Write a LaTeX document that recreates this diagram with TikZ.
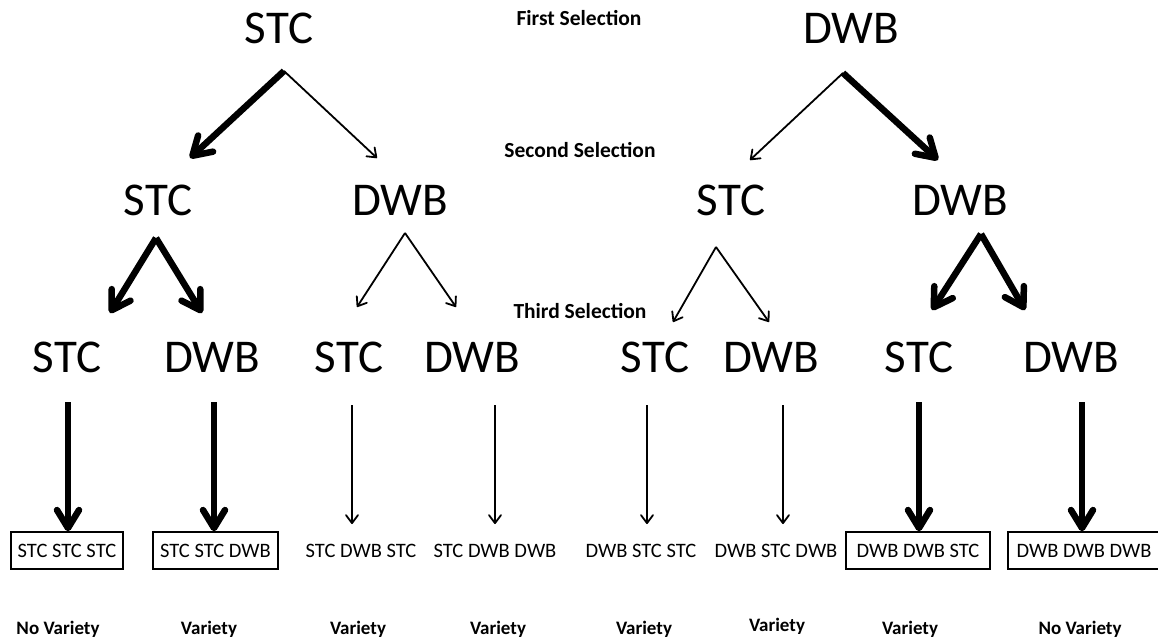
\documentclass[tikz,border=0pt]{standalone}
\usepackage{fontspec}
\setmainfont{Carlito}
\usetikzlibrary{arrows.meta}
\begin{document}
\begin{tikzpicture}[x=1pt,y=-1pt,
  big/.style={font=\fontsize{47}{50}\selectfont, anchor=base, inner sep=0pt},
  lab/.style={font=\bfseries\fontsize{19}{21}\selectfont, anchor=base, inner sep=0pt},
  sellab/.style={font=\bfseries\fontsize{21.5}{23}\selectfont, anchor=base, inner sep=0pt},
  res/.style={font=\fontsize{20.5}{22}\selectfont, inner sep=0pt, minimum height=37pt},
  resbox/.style={res, draw, line width=1.4pt},
  heavyarrow/.style={line width=6.5pt, -{Straight Barb[length=18pt,width=22pt,round]}},
  lightarrow/.style={line width=1.8pt, -{Straight Barb[length=8pt,width=12pt,round]}},
]
\useasboundingbox (0,0) rectangle (1158,640);
\fill[white] (0,0) rectangle (1158,640);

% selection labels
\node[sellab] (first) at (579,25) {First Selection};
\node[sellab] (second) at (580,157) {Second Selection};
\node[sellab] (third) at (580,318) {Third Selection};

% level 0
\node[big] (s0) at (279,43) {STC};
\node[big] (d0) at (851,43) {DWB};
% level 1
\node[big] (s1a) at (158,215) {STC};
\node[big] (d1a) at (400,215) {DWB};
\node[big] (s1b) at (731,215) {STC};
\node[big] (d1b) at (960,215) {DWB};
% level 2
\node[big] (l2a) at (67,372) {STC};
\node[big] (l2b) at (212,372) {DWB};
\node[big] (l2c) at (349,372) {STC};
\node[big] (l2d) at (472,372) {DWB};
\node[big] (l2e) at (655,372) {STC};
\node[big] (l2f) at (771,372) {DWB};
\node[big] (l2g) at (919,372) {STC};
\node[big] (l2h) at (1071,372) {DWB};

% apex / tip coordinates
\coordinate (s0apex) at (284,71);
\coordinate (s0l) at (190,158);
\coordinate (s0r) at (377,158);
\coordinate (d0apex) at (843,73);
\coordinate (d0l) at (750,160);
\coordinate (d0r) at (938,160);
\coordinate (s1aapex) at (156,238);
\coordinate (s1al) at (110,313);
\coordinate (s1ar) at (202,313);
\coordinate (d1aapex) at (405,233);
\coordinate (d1al) at (357,307);
\coordinate (d1ar) at (456,307);
\coordinate (s1bapex) at (716,247);
\coordinate (s1bl) at (673,322);
\coordinate (s1br) at (769,322);
\coordinate (d1bapex) at (981,234);
\coordinate (d1bl) at (932,310);
\coordinate (d1br) at (1025,310);

\draw[heavyarrow] (s0apex) -- (s0l);
\draw[lightarrow] (s0apex) -- (s0r);
\draw[lightarrow] (d0apex) -- (d0l);
\draw[heavyarrow] (d0apex) -- (d0r);
\draw[heavyarrow] (s1aapex) -- (s1al);
\draw[heavyarrow] (s1aapex) -- (s1ar);
\draw[lightarrow] (d1aapex) -- (d1al);
\draw[lightarrow] (d1aapex) -- (d1ar);
\draw[lightarrow] (s1bapex) -- (s1bl);
\draw[lightarrow] (s1bapex) -- (s1br);
\draw[heavyarrow] (d1bapex) -- (d1bl);
\draw[heavyarrow] (d1bapex) -- (d1br);

% results
\node[resbox, minimum width=112pt] (r1) at (67,550.5) {STC STC STC};
\node[resbox, minimum width=125pt] (r2) at (215.5,550.5) {STC STC DWB};
\node[res] (r3) at (361,551) {STC DWB STC};
\node[res] (r4) at (495,551) {STC DWB DWB};
\node[res] (r5) at (641,551) {DWB STC STC};
\node[res] (r6) at (776,551) {DWB STC DWB};
\node[resbox, minimum width=144pt] (r7) at (918,550.5) {DWB DWB STC};
\node[resbox, minimum width=152pt] (r8) at (1084,550.5) {DWB DWB DWB};

% vertical arrows
\coordinate (v1) at (68,402);
\coordinate (v2) at (214,402);
\coordinate (v3) at (352,405);
\coordinate (v4) at (495,405);
\coordinate (v5) at (647,405);
\coordinate (v6) at (783,405);
\coordinate (v7) at (919,402);
\coordinate (v8) at (1082,402);
\coordinate (w3) at (352,524);
\coordinate (w4) at (495,524);
\coordinate (w5) at (647,524);
\coordinate (w6) at (783,524);
\draw[heavyarrow] (v1) -- (r1.north -| v1);
\draw[heavyarrow] (v2) -- (r2.north -| v2);
\draw[lightarrow] (v3) -- (w3);
\draw[lightarrow] (v4) -- (w4);
\draw[lightarrow] (v5) -- (w5);
\draw[lightarrow] (v6) -- (w6);
\draw[heavyarrow] (v7) -- (r7.north -| v7);
\draw[heavyarrow] (v8) -- (r8.north -| v8);

% bottom labels
\node[lab] (n1) at (58,634) {No Variety};
\node[lab] (n2) at (209,634) {Variety};
\node[lab] (n3) at (358,634) {Variety};
\node[lab] (n4) at (498,634) {Variety};
\node[lab] (n5) at (644,634) {Variety};
\node[lab] (n6) at (777,631) {Variety};
\node[lab] (n7) at (910,634) {Variety};
\node[lab] (n8) at (1080,634) {No Variety};
\end{tikzpicture}
\end{document}
